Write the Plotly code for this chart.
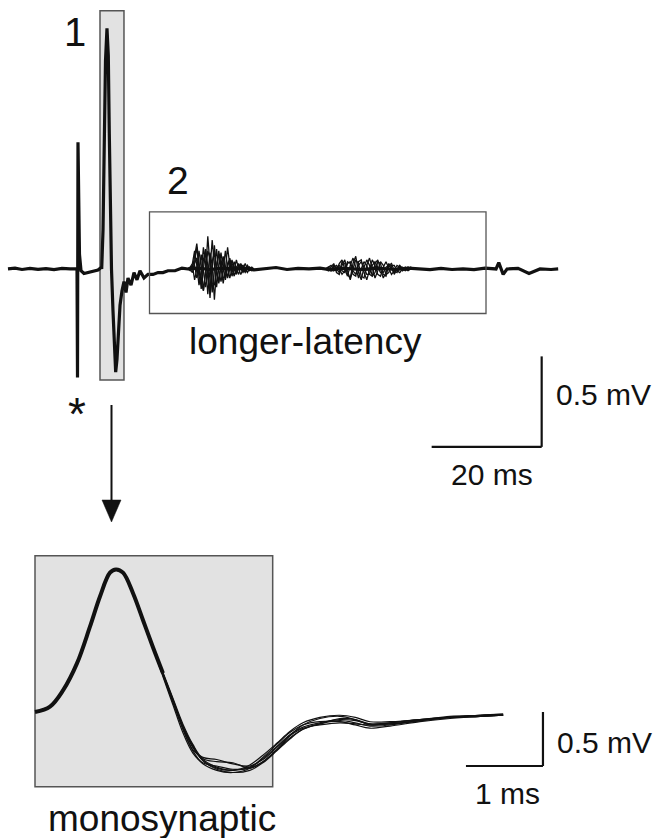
import plotly.graph_objects as go

W, H = 658, 838

# ---------------- Top panel: full sweep (time in ms, voltage in mV) ----------------
top_t = [-12.73, -11.45, -10.18, -8.73, -7.27, -5.82, -4.36, -2.91, -1.45, -0.18,
         -0.09, 0.0, 0.27, 0.55, 1.09, 2.18, 3.64, 4.27,
         4.31, 4.55, 4.73, 5.0, 5.27, 5.51, 5.69, 5.91, 6.09, 6.36, 6.64, 6.85, 7.09, 7.33,
         7.64, 8.0, 8.36, 8.73, 9.09, 9.64, 10.18, 10.73, 11.27, 12.0, 12.73, 13.64, 14.55,
         15.45, 16.36, 17.64, 18.91,
         20, 22, 24, 26, 28, 30, 32, 34, 36, 38, 40, 42, 44, 46, 48, 50, 52, 54, 56, 58,
         60, 62, 64, 66, 68, 70, 72, 74, 76, 76.5, 77.3, 78, 80, 82, 84, 86, 87.3]
top_v = [0.0, 0.004, -0.003, 0.003, -0.002, 0.002, -0.004, 0.003, 0.0, 0.0,
         -0.60, 0.70, 0.08, -0.01, -0.025, -0.017, -0.006, 0.01,
         0.0, 0.215, 0.75, 1.15, 1.33, 1.18, 0.75, 0.27, 0.0, -0.23, -0.475, -0.57, -0.50, -0.35,
         -0.20, -0.12, -0.07, -0.13, -0.05, -0.09, -0.02, -0.06, -0.01, -0.05, -0.03, -0.03, -0.02,
         -0.02, -0.01, -0.01, 0.005,
         0.0, 0.004, -0.004, 0.005, 0.0, 0.004, -0.005, 0.0, 0.008, -0.003, 0.003, 0.0, 0.004,
         -0.005, 0.003, 0.0, -0.004, 0.005, 0.0, -0.003,
         0.005, 0.0, -0.004, 0.003, -0.003, 0.0, -0.004, 0.004, 0.0, 0.035, -0.03, 0.0, 0.003,
         -0.025, 0.0, -0.003, 0.0]

# longer-latency burst 1 (individual sweeps)
burst1_t = [20.0, 20.4, 20.8, 21.2, 21.6, 22.0, 22.4, 22.8, 23.2, 23.6, 24.0, 24.4, 24.8, 25.2,
            25.6, 26.0, 26.4, 26.8, 27.2, 27.6, 28.0, 28.4, 28.8, 29.2, 29.6, 30.0, 30.4, 30.8,
            31.2, 31.6, 32.0]
burst1_a = [0.0, 0.01, 0.03, 0.10, 0.02, -0.09, -0.02, 0.12, 0.03, -0.14, 0.0, 0.16, 0.02, -0.10,
            0.01, 0.09, 0.0, -0.06, 0.01, 0.06, 0.0, -0.04, 0.01, 0.03, 0.0, -0.02, 0.0, 0.02, 0.0,
            -0.01, 0.0]
burst1_b = [0.0, 0.0, 0.02, 0.04, 0.12, 0.01, -0.11, 0.0, 0.09, 0.02, -0.16, 0.01, 0.13, 0.0,
            -0.08, 0.02, 0.07, -0.01, -0.05, 0.0, 0.05, 0.0, -0.03, 0.01, 0.03, 0.0, -0.02, 0.0,
            0.01, 0.0, 0.0]
burst1_c = [0.0, -0.01, 0.02, -0.06, 0.0, 0.10, 0.01, -0.12, -0.02, 0.18, 0.02, -0.13, 0.0, 0.11,
            -0.01, -0.07, 0.0, 0.10, 0.01, -0.05, 0.0, 0.04, 0.0, -0.03, 0.01, 0.02, 0.0, -0.02,
            0.0, 0.01, 0.0]
burst1_d = [0.0, 0.0, 0.01, 0.02, -0.05, -0.01, 0.08, 0.0, -0.10, -0.03, 0.09, 0.02, -0.17, 0.0,
            0.10, 0.01, -0.08, 0.0, 0.12, 0.02, -0.04, 0.0, 0.05, 0.0, -0.03, 0.0, 0.03, 0.0,
            -0.01, 0.0, 0.0]
burst1_e = [0.0, 0.01, 0.0, 0.08, 0.14, 0.03, -0.07, -0.12, 0.0, 0.10, 0.06, -0.08, -0.09, 0.02,
            0.08, 0.03, -0.05, -0.04, 0.03, 0.05, 0.0, -0.03, -0.02, 0.02, 0.02, 0.0, -0.01, 0.0,
            0.01, 0.0, 0.0]
burst1_f = [0.0, 0.0, -0.02, 0.03, 0.06, -0.04, -0.08, 0.05, 0.11, -0.03, -0.12, 0.04, 0.09, -0.02,
            -0.07, 0.03, 0.06, -0.01, -0.04, 0.02, 0.03, 0.0, -0.02, 0.01, 0.02, -0.01, 0.0, 0.01,
            0.0, 0.0, 0.0]

# longer-latency burst 2 (individual sweeps)
burst2_t = [45.0, 45.5, 46.0, 46.5, 47.0, 47.5, 48.0, 48.5, 49.0, 49.5, 50.0, 50.5, 51.0, 51.5,
            52.0, 52.5, 53.0, 53.5, 54.0, 54.5, 55.0, 55.5, 56.0, 56.5, 57.0, 57.5, 58.0, 58.5,
            59.0, 59.5, 60.0, 60.5, 61.0]
burst2_g = [0.0, 0.01, 0.02, 0.0, -0.01, 0.03, 0.05, 0.0, -0.04, 0.02, 0.06, 0.01, -0.05, 0.0,
            0.04, 0.02, -0.03, -0.04, 0.03, 0.05, 0.0, -0.05, -0.02, 0.03, 0.01, -0.03, 0.0, 0.02,
            0.0, -0.01, 0.0, 0.01, 0.0]
burst2_h = [0.0, 0.0, -0.01, 0.02, 0.0, -0.02, 0.04, 0.03, -0.03, -0.05, 0.03, 0.07, -0.02, -0.06,
            0.01, 0.05, 0.02, -0.04, -0.02, 0.04, 0.03, -0.03, -0.04, 0.02, 0.03, -0.01, -0.02,
            0.01, 0.01, 0.0, -0.01, 0.0, 0.0]
burst2_i = [0.0, -0.01, 0.01, 0.03, -0.02, -0.03, 0.02, 0.05, -0.01, -0.06, 0.0, 0.05, 0.03, -0.04,
            -0.05, 0.02, 0.06, 0.0, -0.05, -0.01, 0.04, 0.02, -0.03, -0.02, 0.02, 0.02, -0.01,
            -0.02, 0.0, 0.01, 0.0, 0.0, 0.0]
burst2_j = [0.0, 0.0, 0.0, 0.01, 0.02, 0.0, -0.03, -0.01, 0.04, 0.03, -0.03, -0.04, 0.04, 0.05,
            -0.02, -0.06, 0.0, 0.05, 0.02, -0.03, -0.04, 0.01, 0.04, 0.0, -0.03, -0.01, 0.02, 0.01,
            -0.01, 0.0, 0.01, 0.0, 0.0]
burst2_k = [0.0, 0.01, 0.0, -0.01, 0.01, 0.02, -0.01, -0.02, 0.03, 0.04, -0.01, -0.03, 0.02, 0.04,
            0.01, -0.03, -0.03, 0.02, 0.04, 0.01, -0.02, -0.02, 0.01, 0.02, 0.0, -0.02, 0.0, 0.01,
            0.0, 0.0, 0.0, 0.0, 0.0]

# ---------------- Bottom panel: monosynaptic response, expanded ----------------
mono_head_t = [0.0, 0.195, 0.364, 0.545, 0.714, 0.844, 0.974, 1.052, 1.143, 1.273, 1.403, 1.532,
               1.662]
mono_head_v = [0.0, 0.05, 0.20, 0.45, 0.79, 1.07, 1.29, 1.32, 1.29, 1.10, 0.85, 0.60, 0.36]

mono_tail_t = [1.53, 1.66, 1.79, 1.92, 2.05, 2.18, 2.36, 2.57, 2.79, 2.96, 3.14, 3.31, 3.48, 3.70,
               3.96, 4.16, 4.35, 4.61, 5.00, 5.39, 5.78, 6.08]
mono_s1 = [0.60, 0.36, 0.11, -0.14, -0.33, -0.44, -0.51, -0.54, -0.51, -0.43, -0.32, -0.21, -0.14,
           -0.10, -0.07, -0.08, -0.11, -0.10, -0.07, -0.05, -0.04, -0.03]
mono_s2 = [0.60, 0.33, 0.07, -0.19, -0.38, -0.47, -0.50, -0.53, -0.52, -0.46, -0.35, -0.24, -0.16,
           -0.11, -0.06, -0.07, -0.11, -0.10, -0.07, -0.05, -0.04, -0.03]
mono_s3 = [0.60, 0.37, 0.13, -0.11, -0.30, -0.43, -0.46, -0.47, -0.52, -0.46, -0.35, -0.22, -0.12,
           -0.06, -0.04, -0.07, -0.12, -0.11, -0.08, -0.05, -0.03, -0.02]
mono_s4 = [0.60, 0.35, 0.10, -0.16, -0.36, -0.48, -0.54, -0.56, -0.52, -0.42, -0.30, -0.19, -0.12,
           -0.09, -0.09, -0.12, -0.15, -0.13, -0.09, -0.06, -0.04, -0.03]
mono_s5 = [0.60, 0.36, 0.12, -0.13, -0.32, -0.45, -0.52, -0.54, -0.49, -0.40, -0.29, -0.18, -0.10,
           -0.05, -0.03, -0.05, -0.09, -0.09, -0.07, -0.04, -0.03, -0.02]
mono_s6 = [0.60, 0.34, 0.09, -0.15, -0.35, -0.42, -0.44, -0.48, -0.50, -0.44, -0.33, -0.22, -0.15,
           -0.12, -0.10, -0.11, -0.12, -0.11, -0.08, -0.05, -0.03, -0.03]
mono_s7 = [0.60, 0.36, 0.11, -0.13, -0.31, -0.45, -0.53, -0.56, -0.54, -0.47, -0.36, -0.25, -0.16,
           -0.11, -0.08, -0.10, -0.13, -0.12, -0.08, -0.05, -0.04, -0.03]

# scale bars
top_bar_ms, top_bar_mv = 20, 0.5
bot_bar_ms, bot_bar_mv = 1, 0.5

# ---------------- figure ----------------
fig = go.Figure()
INK = "#111111"

fig.add_trace(go.Scatter(x=top_t, y=top_v, mode="lines", xaxis="x", yaxis="y",
                         line=dict(color=INK, width=3.2), hoverinfo="skip"))
for sw in [burst1_a, burst1_b, burst1_c, burst1_d, burst1_e, burst1_f]:
    fig.add_trace(go.Scatter(x=burst1_t, y=sw, mode="lines", xaxis="x", yaxis="y",
                             line=dict(color=INK, width=1.3), hoverinfo="skip"))
for sw in [burst2_g, burst2_h, burst2_i, burst2_j, burst2_k]:
    fig.add_trace(go.Scatter(x=burst2_t, y=sw, mode="lines", xaxis="x", yaxis="y",
                             line=dict(color=INK, width=1.3), hoverinfo="skip"))

fig.add_trace(go.Scatter(x=mono_head_t, y=mono_head_v, mode="lines", xaxis="x2", yaxis="y2",
                         line=dict(color=INK, width=4, shape="spline", smoothing=1.0),
                         hoverinfo="skip"))
for sw in [mono_s1, mono_s2, mono_s3, mono_s4, mono_s5, mono_s6, mono_s7]:
    fig.add_trace(go.Scatter(x=mono_tail_t, y=sw, mode="lines", xaxis="x2", yaxis="y2",
                             line=dict(color=INK, width=1.2, shape="spline", smoothing=1.0),
                             hoverinfo="skip"))


def P(px, py):
    return px / W, 1 - py / H


shapes = []
BOX = "#555555"
# box 1 (monosynaptic window) in top axes
shapes.append(dict(type="rect", xref="x", yref="y", x0=4.0, x1=8.36, y0=-0.613, y1=1.427,
                   fillcolor="#e2e2e2", line=dict(color=BOX, width=1.5), layer="below"))
# box 2 (longer latency window)
shapes.append(dict(type="rect", xref="x", yref="y", x0=13.0, x1=74.18, y0=-0.246, y1=0.315,
                   line=dict(color=BOX, width=1.3), layer="above"))
# top scale bar
cx, cy = 84.3, -0.983
shapes.append(dict(type="line", xref="x", yref="y", x0=cx - top_bar_ms, x1=cx, y0=cy, y1=cy,
                   line=dict(color=INK, width=2.2)))
shapes.append(dict(type="line", xref="x", yref="y", x0=cx, x1=cx, y0=cy, y1=cy + top_bar_mv,
                   line=dict(color=INK, width=2.2)))
# bottom box
shapes.append(dict(type="rect", xref="x2", yref="y2", x0=0.0, x1=3.087, y0=-0.692, y1=1.447,
                   fillcolor="#e2e2e2", line=dict(color=BOX, width=1.5), layer="below"))
# bottom scale bar
bx, by = 6.597, -0.5
shapes.append(dict(type="line", xref="x2", yref="y2", x0=bx - bot_bar_ms, x1=bx, y0=by, y1=by,
                   line=dict(color=INK, width=2.2)))
shapes.append(dict(type="line", xref="x2", yref="y2", x0=bx, x1=bx, y0=by, y1=by + bot_bar_mv,
                   line=dict(color=INK, width=2.2)))
# arrow
x0, y0 = P(111.5, 405)
x1, y1 = P(111.5, 502)
shapes.append(dict(type="line", xref="paper", yref="paper", x0=x0, x1=x1, y0=y0, y1=y1,
                   line=dict(color=INK, width=2)))
a1 = P(102, 500); a2 = P(121, 500); a3 = P(111.5, 522)
shapes.append(dict(type="path", xref="paper", yref="paper",
                   path=f"M {a1[0]} {a1[1]} L {a2[0]} {a2[1]} L {a3[0]} {a3[1]} Z",
                   fillcolor=INK, line=dict(color=INK, width=0.5)))

FONT = "Liberation Sans, Arial, sans-serif"
annotations = []


def txt(s, px, py, size, xanchor="center"):
    xp, yp = P(px, py)
    annotations.append(dict(text=s, x=xp, y=yp, xref="paper", yref="paper", showarrow=False,
                            xanchor=xanchor, yanchor="middle",
                            font=dict(family=FONT, size=size, color=INK)))


txt("1", 75, 32, 40)
txt("2", 178, 180, 39)
txt("longer-latency", 305, 342, 37)
txt("*", 77, 414, 46)
txt("0.5 mV", 554, 394, 30, "left")
txt("20 ms", 492, 474, 30)
txt("0.5 mV", 555, 742, 30, "left")
txt("1 ms", 507, 793, 30)
txt("monosynaptic", 162, 818, 37)

fig.update_layout(
    width=W, height=H, autosize=False,
    margin=dict(l=0, r=0, t=0, b=0),
    paper_bgcolor="white", plot_bgcolor="white",
    showlegend=False,
    xaxis=dict(range=[-14.18, 105.45], visible=False, domain=[0, 1]),
    yaxis=dict(range=[-3.144, 1.486], visible=False, domain=[0, 1]),
    xaxis2=dict(range=[-0.4545, 8.091], visible=False, overlaying="x", anchor="y2"),
    yaxis2=dict(range=[-1.1667, 6.593], visible=False, overlaying="y", anchor="x2"),
    shapes=shapes, annotations=annotations,
)

fig.write_html("out.html", config={"displayModeBar": False},
               post_script="document.body.style.margin='0';")
